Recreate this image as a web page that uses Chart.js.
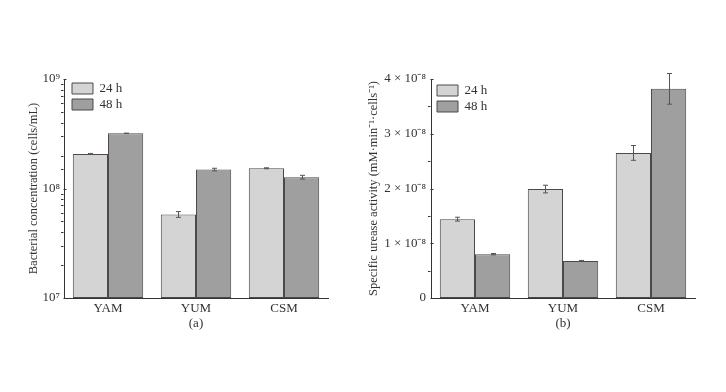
<!DOCTYPE html>
<html>
<head>
<meta charset="utf-8">
<script src="https://cdn.jsdelivr.net/npm/chart.js@4"></script>
<style>
  html, body { margin: 0; padding: 0; background: #fff; }
  #wrap { position: relative; width: 726px; height: 392px; }
  canvas { position: absolute; top: 0; }
  #chartA { left: 0; }
  #chartB { left: 360px; }
</style>
</head>
<body>
<div id="wrap">
  <canvas id="chartA" width="360" height="392"></canvas>
  <canvas id="chartB" width="366" height="392"></canvas>
</div>
<script>
const categories = ["YAM", "YUM", "CSM"];
const seriesNames = ["24 h", "48 h"];

// (a) bacterial concentration, cells/mL
const conc24 = [2.07e8, 0.58e8, 1.53e8];
const conc24Err = [0.02e8, 0.035e8, 0.015e8];
const conc48 = [3.19e8, 1.49e8, 1.27e8];
const conc48Err = [0.015e8, 0.04e8, 0.05e8];

// (b) specific urease activity
const act24 = [1.44e-8, 1.99e-8, 2.65e-8];
const act24Err = [0.035e-8, 0.07e-8, 0.135e-8];
const act48 = [0.80e-8, 0.676e-8, 3.82e-8];
const act48Err = [0.012e-8, 0.01e-8, 0.28e-8];

const FONT = "'Liberation Serif', 'Times New Roman', serif";
const TEXT = "#333";
const SUP = { "0": "⁰", "1": "¹", "2": "²", "3": "³", "4": "⁴", "5": "⁵", "6": "⁶", "7": "⁷", "8": "⁸", "9": "⁹", "-": "⁻" };
const sup = s => String(s).split("").map(c => SUP[c]).join("");

// error bars, tick marks (major inward, minor outward), legend placement
function extrasPlugin(isMajor, legendDx, legendDy) {
  return {
    id: "extras",
    afterLayout(chart) {
      const lg = chart.legend;
      lg.left = chart.chartArea.left + legendDx;
      lg.top = chart.chartArea.top + legendDy;
      lg.right = lg.left + lg.width;
      lg.bottom = lg.top + lg.height;
    },
    afterDatasetsDraw(chart) {
      const ctx = chart.ctx;
      const y = chart.scales.y;
      ctx.save();
      ctx.strokeStyle = "#555";
      ctx.lineWidth = 1;
      chart.data.datasets.forEach((ds, i) => {
        chart.getDatasetMeta(i).data.forEach((bar, j) => {
          const v = ds.data[j], e = ds.errors[j];
          const top = y.getPixelForValue(v + e);
          const bot = y.getPixelForValue(v - e);
          const x = Math.round(bar.x) + 0.5;
          ctx.beginPath();
          ctx.moveTo(x, top); ctx.lineTo(x, bot);
          ctx.moveTo(x - 2.5, top); ctx.lineTo(x + 2.5, top);
          ctx.moveTo(x - 2.5, bot); ctx.lineTo(x + 2.5, bot);
          ctx.stroke();
        });
      });
      ctx.strokeStyle = "#333";
      const left = Math.round(chart.chartArea.left) - 0.5;
      y.ticks.forEach(t => {
        const py = Math.round(y.getPixelForValue(t.value)) + 0.5;
        ctx.beginPath();
        if (isMajor(t.value)) { ctx.moveTo(left, py); ctx.lineTo(left + 3, py); }
        else { ctx.moveTo(left, py); ctx.lineTo(left - 2.5, py); }
        ctx.stroke();
      });
      ctx.restore();
    }
  };
}

function makeChart(id, values, errors, yScale, xTitle, yTitle, yWidth, padLeft, padRight, plugin) {
  const data = {
    labels: categories,
    datasets: [
      {
        label: seriesNames[0],
        data: values[0],
        errors: errors[0],
        backgroundColor: "#d4d4d4",
        borderColor: "#4f4848",
        borderWidth: 1,
        borderSkipped: false,
        categoryPercentage: 0.8,
        barPercentage: 1.0
      },
      {
        label: seriesNames[1],
        data: values[1],
        errors: errors[1],
        backgroundColor: "#9e9f9e",
        borderColor: "#4f4848",
        borderWidth: 1,
        borderSkipped: false,
        categoryPercentage: 0.8,
        barPercentage: 1.0
      }
    ]
  };

  const options = {
    responsive: false,
    animation: false,
    devicePixelRatio: 1,
    layout: { padding: { left: padLeft, right: padRight, top: 79, bottom: 54 } },
    plugins: {
      legend: {
        position: "chartArea",
        align: "start",
        labels: {
          font: { family: FONT, size: 13 },
          color: TEXT,
          boxWidth: 21,
          boxHeight: 11,
          padding: 3
        }
      },
      tooltip: { enabled: false }
    },
    scales: {
      x: {
        grid: { display: false, drawTicks: false },
        border: { display: true, color: "#333", width: 1 },
        ticks: { font: { family: FONT, size: 13 }, color: TEXT, padding: 3 },
        title: { display: true, text: xTitle, font: { family: FONT, size: 13 }, color: TEXT, padding: { top: 0, bottom: 7 } },
        afterFit: s => { s.height = 40; }
      },
      y: Object.assign({
        grid: { display: false, drawTicks: false },
        border: { display: true, color: "#333", width: 1 },
        title: { display: true, text: yTitle, font: { family: FONT, size: 12.5 }, color: TEXT, padding: { top: 4, bottom: 4 } },
        afterFit: s => { s.width = yWidth; }
      }, yScale)
    }
  };

  return new Chart(document.getElementById(id).getContext("2d"), {
    type: "bar",
    data: data,
    options: options,
    plugins: [plugin]
  });
}

const isPow10 = v => Math.abs(Math.log10(v) - Math.round(Math.log10(v))) < 1e-9;
const isWhole = v => Number.isInteger(Math.round(v / 1e-8 * 2) / 2);

makeChart("chartA", [conc24, conc48], [conc24Err, conc48Err], {
  type: "logarithmic",
  min: 1e7,
  max: 1e9,
  ticks: {
    font: { family: FONT, size: 13 },
    color: TEXT,
    padding: 4,
    autoSkip: false,
    callback: v => isPow10(v) ? "10" + sup(Math.round(Math.log10(v))) : ""
  }
}, "(a)", "Bacterial concentration (cells/mL)", 42, 22, 32, extrasPlugin(isPow10, 5, 0));

makeChart("chartB", [act24, act48], [act24Err, act48Err], {
  type: "linear",
  min: 0,
  max: 4e-8,
  ticks: {
    stepSize: 0.5e-8,
    font: { family: FONT, size: 13 },
    color: TEXT,
    padding: 5,
    autoSkip: false,
    callback: v => {
      const n = Math.round(v / 1e-8 * 2) / 2;
      if (n === 0) return "0";
      return Number.isInteger(n) ? n + " × 10" + sup(-8) : "";
    }
  }
}, "(b)", "Specific urease activity (mM·min" + sup(-1) + "·cells" + sup(-1) + ")", 69, 2, 31, extrasPlugin(isWhole, 3, 2));
</script>
</body>
</html>
